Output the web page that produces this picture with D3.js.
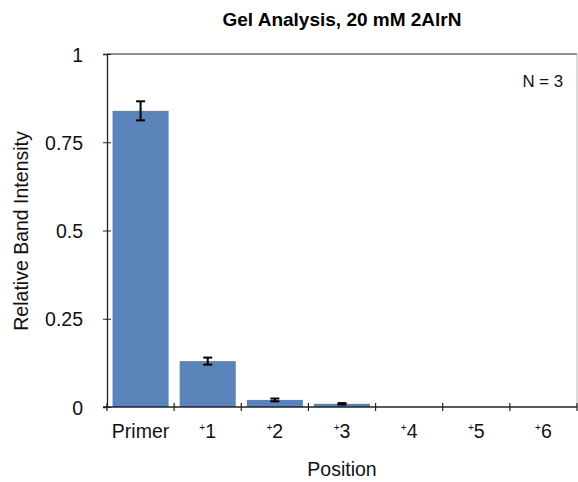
<!DOCTYPE html>
<html><head><meta charset="utf-8">
<script src="https://cdn.jsdelivr.net/npm/d3@7"></script>
<style>body{margin:0;background:#fff}svg text{font-family:"Liberation Sans",Arial,sans-serif}</style>
</head><body><svg id="c" width="578" height="482"></svg>
<script>
const categories = ["Primer", "+1", "+2", "+3", "+4", "+5", "+6"];
const values = [0.839, 0.130, 0.020, 0.009, 0, 0, 0];
const errors = [0.027, 0.010, 0.004, 0.002, 0, 0, 0];
const yTicks = [0, 0.25, 0.5, 0.75, 1];
const yTickLabels = ["0", "0.25", "0.5", "0.75", "1"];

const svg = d3.select("#c");
const m = {l:107, r:577, t:54, b:407};
const x = d3.scaleBand().domain(categories).range([m.l, m.r]).paddingInner(0.165).paddingOuter(0.0825);
const y = d3.scaleLinear().domain([0,1]).range([m.b, m.t]);

// plot frame top/right
svg.append("line").attr("x1",m.l).attr("x2",m.r).attr("y1",m.t).attr("y2",m.t).attr("stroke","#222").attr("stroke-width",1.2);
svg.append("line").attr("x1",m.r).attr("x2",m.r).attr("y1",m.t).attr("y2",m.b).attr("stroke","#bbb").attr("stroke-width",1);

// bars
svg.selectAll("rect.bar").data(categories).join("rect").attr("class","bar")
  .attr("x", d=>x(d)).attr("width", x.bandwidth())
  .attr("y", (d,i)=>y(values[i])).attr("height",(d,i)=>y(0)-y(values[i]))
  .attr("fill","#5B85BA");

// error bars
const eb = svg.append("g").attr("stroke","#000").attr("stroke-width",2);
categories.forEach((c,i)=>{
  if(!values[i]) return;
  const cx = x(c)+x.bandwidth()/2, e=errors[i];
  eb.append("line").attr("x1",cx).attr("x2",cx).attr("y1",y(values[i]+e)).attr("y2",y(values[i]-e));
  eb.append("line").attr("x1",cx-4.5).attr("x2",cx+4.5).attr("y1",y(values[i]+e)).attr("y2",y(values[i]+e));
  eb.append("line").attr("x1",cx-4.5).attr("x2",cx+4.5).attr("y1",y(values[i]-e)).attr("y2",y(values[i]-e));
});

// y axis
const ya = svg.append("g").attr("transform",`translate(${m.l},0)`)
  .call(d3.axisLeft(y).tickValues(yTicks).tickFormat((d,i)=>yTickLabels[i]).tickSize(4).tickPadding(20));
ya.select(".domain").attr("stroke","#222").attr("stroke-width",1.3);
ya.selectAll(".tick line").attr("x2",4).attr("x1",-4).attr("stroke","#222");
ya.selectAll(".tick text").attr("font-size",19.5).attr("fill","#111").attr("dy","0.36em");

// x axis
const xa = svg.append("g").attr("transform",`translate(0,${m.b})`);
xa.append("line").attr("x1",m.l-4).attr("x2",m.r).attr("stroke","#222").attr("stroke-width",1.5);
const tickPos = categories.map(c=>x(c)-x.step()*x.paddingInner()/2).concat([m.r]);
tickPos.forEach(p=>xa.append("line").attr("x1",p).attr("x2",p).attr("y1",-4).attr("y2",4).attr("stroke","#222").attr("stroke-width",1.2));
categories.forEach(c=>{
  const t = xa.append("text").attr("x",x(c)+x.bandwidth()/2).attr("y",31).attr("text-anchor","middle").attr("font-size",19.5).attr("fill","#111");
  if(c.startsWith("+")){
    t.append("tspan").attr("font-size",10).attr("dy",-7).text("+");
    t.append("tspan").attr("dy",7).text(c.slice(1));
  } else t.text(c);
});

// titles
svg.append("text").attr("x",342).attr("y",26).attr("text-anchor","middle").attr("font-size",19).attr("font-weight","bold").text("Gel Analysis, 20 mM 2AlrN");
svg.append("text").attr("x",342).attr("y",476).attr("text-anchor","middle").attr("font-size",19.5).attr("fill","#111").text("Position");
svg.append("text").attr("transform","translate(28,231) rotate(-90)").attr("text-anchor","middle").attr("font-size",19.5).attr("fill","#111").text("Relative Band Intensity");
svg.append("text").attr("x",563).attr("y",87).attr("text-anchor","end").attr("font-size",16.8).attr("fill","#111").text("N = 3");
</script></body></html>
